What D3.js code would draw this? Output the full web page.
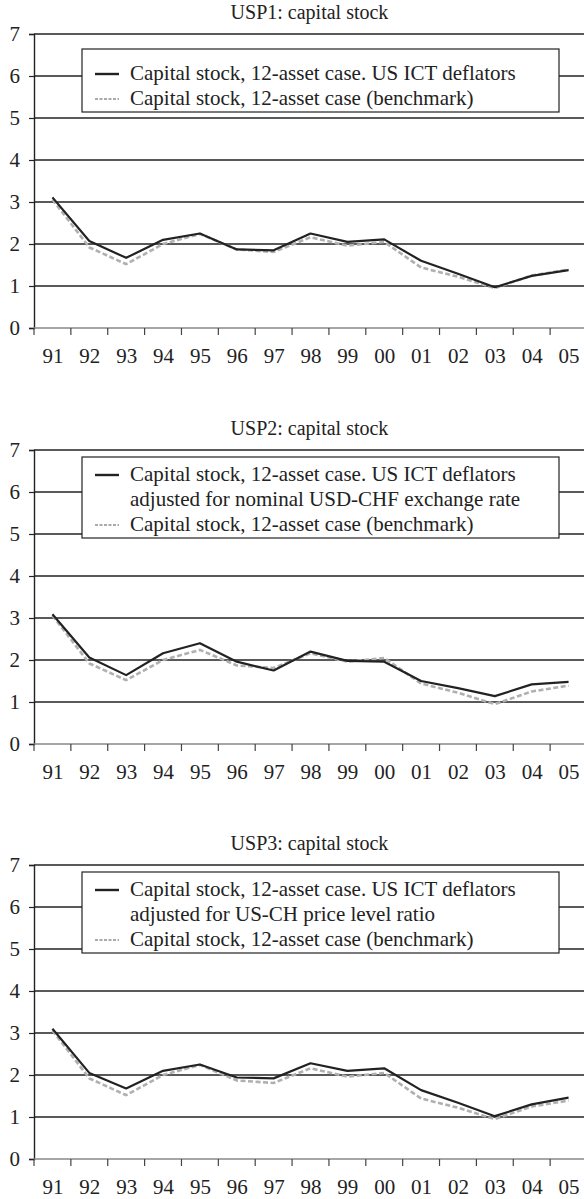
<!DOCTYPE html>
<html><head><meta charset="utf-8">
<script src="https://cdn.jsdelivr.net/npm/d3@7"></script>
<style>
html,body{margin:0;padding:0;background:#fff;}
svg{display:block;}
text{font-family:"Liberation Serif","Times New Roman","DejaVu Serif",serif;fill:#222;}
</style></head>
<body>
<svg id="chart" width="584" height="1199"></svg>
<script>
const categories = ["91","92","93","94","95","96","97","98","99","00","01","02","03","04","05"];
const benchmark = [3.06,1.92,1.52,2.00,2.24,1.87,1.81,2.16,1.96,2.05,1.44,1.22,0.95,1.25,1.39];
const usp1 = [3.11,2.07,1.67,2.10,2.25,1.87,1.85,2.25,2.05,2.11,1.60,1.29,0.97,1.24,1.38];
const usp2 = [3.09,2.06,1.64,2.16,2.40,1.96,1.75,2.20,1.98,1.96,1.50,1.33,1.14,1.42,1.48];
const usp3 = [3.10,2.05,1.68,2.10,2.25,1.94,1.92,2.28,2.10,2.16,1.64,1.34,1.02,1.30,1.46];
const titles = ["USP1: capital stock","USP2: capital stock","USP3: capital stock"];
const legendMain = [
  ["Capital stock, 12-asset case. US ICT deflators"],
  ["Capital stock, 12-asset case. US ICT deflators","adjusted for nominal USD-CHF exchange rate"],
  ["Capital stock, 12-asset case. US ICT deflators","adjusted for US-CH price level ratio"]
];
const legendBench = "Capital stock, 12-asset case (benchmark)";
const yTicks = [0,1,2,3,4,5,6,7];
const series = [usp1, usp2, usp3];

const svg = d3.select("#chart");
const panelTops = [34, 450, 865];
const plotH = 294, x0 = 34, x1 = 587;
const legendCfg = [
  {top: 15, first: 46},
  {top: 7, first: 31},
  {top: 7, first: 31}
];
const lineGap = 25;
const fs = 21;
const serif = "'Liberation Serif','Times New Roman','DejaVu Serif',serif";

const x = d3.scalePoint().domain(categories).range([x0, x1]).padding(0.5);

series.forEach((vals, i) => {
  const top = panelTops[i];
  const g = svg.append("g").attr("transform", `translate(0,${top})`);
  const y = d3.scaleLinear().domain([0, 7]).range([plotH, 0]);

  g.append("text").attr("x", (x0 + x1) / 2 - 1).attr("y", -15)
    .attr("text-anchor", "middle").attr("font-size", fs - 1).text(titles[i]);

  g.selectAll(".grid").data(yTicks.filter(t => t > 0)).enter().append("line")
    .attr("x1", x0).attr("x2", 584).attr("y1", d => y(d)).attr("y2", d => y(d))
    .attr("stroke", "#222").attr("stroke-width", 1.4);

  const yAxis = d3.axisLeft(y).tickValues(yTicks).tickSize(5).tickPadding(9).tickFormat(d3.format("d"));
  const ya = g.append("g").attr("transform", `translate(${x0},0)`).call(yAxis);
  ya.attr("font-family", serif);
  ya.select(".domain").attr("stroke", "#222").attr("stroke-width", 1.4);
  ya.selectAll(".tick line").attr("stroke", "#222").attr("stroke-width", 1.2);
  ya.selectAll(".tick text").attr("font-size", fs).attr("fill", "#222");

  const xb = d3.scaleBand().domain(categories).range([x0, x1]);
  const xAxis = d3.axisBottom(x).tickSize(0).tickPadding(20);
  const xa = g.append("g").attr("transform", `translate(0,${plotH})`).call(xAxis);
  xa.attr("font-family", serif);
  xa.select(".domain").remove();
  xa.selectAll(".tick text").attr("font-size", fs).attr("fill", "#222");
  g.append("line").attr("x1", x0).attr("x2", 584).attr("y1", plotH).attr("y2", plotH)
    .attr("stroke", "#888").attr("stroke-width", 1.6);
  g.selectAll(".xt").data(categories).enter().append("line")
    .attr("x1", d => xb(d)).attr("x2", d => xb(d)).attr("y1", plotH).attr("y2", plotH + 7)
    .attr("stroke", "#444").attr("stroke-width", 1.2);

  const lc = legendCfg[i];
  const lines = legendMain[i].length + 1;
  const boxTop = lc.top, boxBottom = lc.first + (lines - 1) * lineGap + 7;
  g.append("rect").attr("x", 82).attr("y", boxTop).attr("width", 477).attr("height", boxBottom - boxTop)
    .attr("fill", "#fff").attr("stroke", "#222").attr("stroke-width", 1.2);
  legendMain[i].forEach((t, k) => {
    g.append("text").attr("x", 130).attr("y", lc.first + k * lineGap).attr("font-size", fs).text(t);
  });
  g.append("line").attr("x1", 95).attr("x2", 119).attr("y1", lc.first - 6).attr("y2", lc.first - 6)
    .attr("stroke", "#222").attr("stroke-width", 2.4);
  const by = lc.first + legendMain[i].length * lineGap;
  g.append("text").attr("x", 130).attr("y", by).attr("font-size", fs).text(legendBench);
  g.append("line").attr("x1", 95).attr("x2", 119).attr("y1", by - 6).attr("y2", by - 6)
    .attr("stroke", "#aaa").attr("stroke-width", 2.2).attr("stroke-dasharray", "3,1.5");

  const line = d3.line().x((d, k) => x(categories[k])).y(d => y(d));
  g.append("path").datum(benchmark).attr("d", line).attr("fill", "none")
    .attr("stroke", "#b0b0b0").attr("stroke-width", 2.6).attr("stroke-dasharray", "5,2.5");
  g.append("path").datum(vals).attr("d", line).attr("fill", "none")
    .attr("stroke", "#222").attr("stroke-width", 2.2).attr("stroke-linejoin", "round");
});
</script>
</body></html>
